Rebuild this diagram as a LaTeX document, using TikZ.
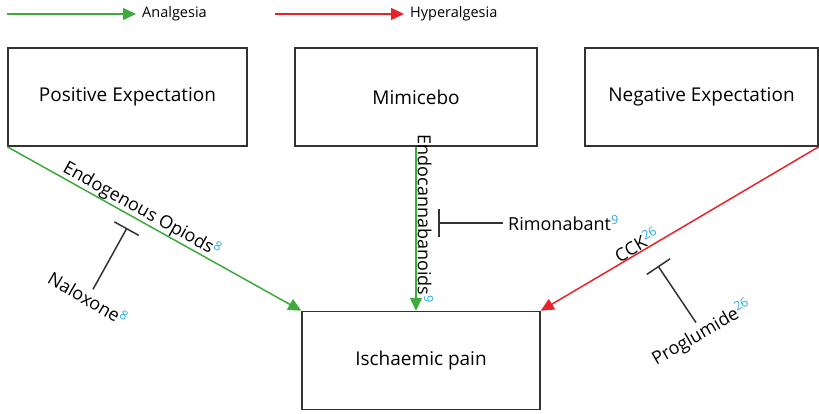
\documentclass[tikz,border=0pt]{standalone}
\usepackage{fontspec}
\setmainfont{Open Sans}
\usepackage{tikz}
\usetikzlibrary{arrows.meta}

\definecolor{analgreen}{HTML}{3DAA3A}
\definecolor{hyperred}{HTML}{E8242B}
\definecolor{refblue}{HTML}{29ABE2}
\definecolor{boxgray}{HTML}{333333}
\newcommand{\citeno}[1]{\textsuperscript{\color{refblue}#1}}
\newcommand{\lblfont}{\fontsize{18}{21}\selectfont}

\begin{document}
\begin{tikzpicture}[x=1pt, y=1pt, >={Triangle[length=13pt, width=12pt]},
  every box/.style={draw=boxgray, line width=1.5pt, minimum height=98pt, inner sep=0pt, font=\fontsize{19}{22}\selectfont},
  analgesia/.style={->, analgreen, line width=1.5pt},
  hyperalgesia/.style={->, hyperred, line width=1.5pt},
  blocker/.style={-{Bar[width=28pt]}, boxgray, line width=1.5pt},
  drug/.style={font=\lblfont, text=black, inner sep=2pt}]

\useasboundingbox (0,0) rectangle (819,413);

\node [every box/.try, minimum width=239pt] (positive) at (127.5,316) {Positive Expectation};
\node [every box/.try, minimum width=242pt] (mimicebo) at (416,316) {Mimicebo};
\node [every box/.try, minimum width=233pt] (negative) at (701.5,316) {Negative Expectation};
\node [every box/.try, minimum width=238pt] (pain) at (421,52.5) {Ischaemic pain};

% key
\foreach \s/\l [count=\i from 0] in {analgesia/Analgesia, hyperalgesia/Hyperalgesia} {
  \node [anchor=west, inner sep=6pt, font=\fontsize{14.5}{17}\selectfont] (key-\i) at (136+268*\i,399) {\l};
  \coordinate (key-start-\i) at (7+268*\i,399);
  \draw [\s] (key-start-\i) -- (key-\i.west);
}

\draw [analgesia] (positive.south west) --
  node [drug, sloped, anchor=south, pos=0.44, inner sep=0pt] (opioids) {Endogenous Opiods\citeno{8}}
  (pain.north west);
\draw [analgesia] (mimicebo.south) --
  node [drug, rotate=-90, anchor=south, pos=0.44, inner sep=1pt] (endocann) {Endocannabanoids\citeno{9}}
  (mimicebo.south |- pain.north);
\draw [hyperalgesia, <-] (pain.north east) --
  node [drug, sloped, anchor=south, pos=0.36, inner sep=0pt] (cck) {CCK\citeno{26}}
  (negative.south east);

% antagonists
\node [drug, rotate=-30] (naloxone) at (88,115) {Naloxone\citeno{8}};
\coordinate (naloxone-bar) at (127,185);
\draw [blocker] (naloxone.north) -- (naloxone-bar);

\node [drug, anchor=west, inner sep=5pt] (rimonabant) at (503,190) {Rimonabant\citeno{9}};
\coordinate (rimonabant-bar) at (438,190);
\draw [blocker] (rimonabant.west) -- (rimonabant-bar);

\node [drug, rotate=30] (proglumide) at (702,80) {Proglumide\citeno{26}};
\coordinate (proglumide-bar) at (658,147);
\draw [blocker] (proglumide.north) -- (proglumide-bar);

\end{tikzpicture}
\end{document}
